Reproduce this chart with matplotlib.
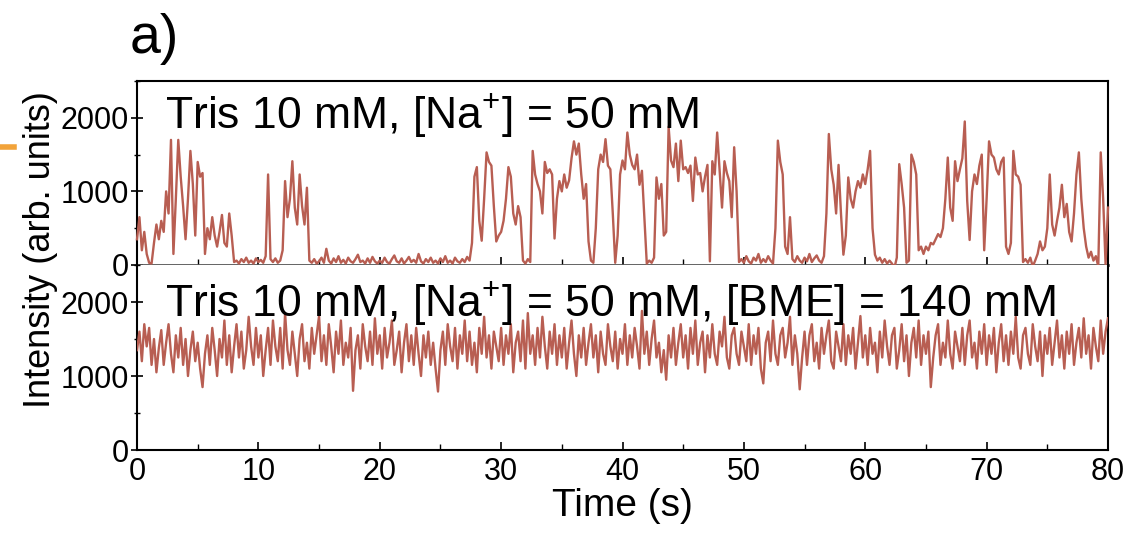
import numpy as np
import matplotlib
matplotlib.use("Agg")
import matplotlib.pyplot as plt
from matplotlib.ticker import MultipleLocator
from matplotlib.lines import Line2D

plt.rcParams['font.family'] = ['Liberation Sans', 'DejaVu Sans']
plt.rcParams['mathtext.default'] = 'regular'

# ---------------- data ----------------
DT = 0.2          # sampling step (s), each block spans 5 s
BLOCK = 5.0

# top trace: Tris 10 mM, [Na+] = 50 mM  (16 blocks of 25 samples + final point)
top_blocks = [
    [350, 650, 200, 450, 150, 30, 20, 300, 550, 350, 600, 450, 1000, 700, 1700, 150, 900, 1700, 1200, 800, 350, 900, 1550, 1100, 400],
    [1400, 1200, 1250, 150, 500, 350, 650, 400, 250, 450, 680, 300, 250, 700, 400, 40, 60, 20, 80, 40, 100, 30, 60, 20, 90],
    [40, 70, 30, 120, 1230, 80, 40, 90, 30, 60, 200, 1140, 650, 900, 1410, 780, 550, 1230, 800, 550, 1050, 60, 30, 80, 20],
    [50, 100, 30, 220, 60, 20, 90, 40, 120, 30, 70, 20, 100, 50, 30, 80, 140, 40, 60, 20, 90, 30, 110, 50, 20],
    [60, 30, 100, 40, 20, 80, 130, 50, 30, 90, 20, 60, 110, 40, 70, 30, 150, 50, 20, 80, 40, 100, 30, 60, 20],
    [90, 40, 120, 30, 60, 20, 100, 50, 30, 80, 40, 110, 60, 300, 1200, 1330, 600, 330, 900, 1530, 1400, 1350, 800, 320, 400],
    [450, 600, 900, 1330, 1200, 700, 550, 800, 650, 60, 20, 80, 40, 1550, 1230, 1100, 1000, 700, 1400, 1250, 1300, 1230, 360, 900, 1140],
    [1000, 1230, 1050, 1150, 1450, 1680, 1500, 1650, 1230, 900, 1100, 320, 60, 30, 500, 1300, 1500, 1400, 1710, 1350, 1300, 700, 30, 400, 1230],
    [1420, 1300, 1800, 1500, 1360, 1300, 1500, 1090, 1280, 650, 20, 60, 30, 100, 1190, 900, 1100, 400, 450, 1880, 1420, 1330, 1650, 1140, 1690],
    [1300, 1330, 1250, 1350, 870, 1460, 1230, 1250, 1000, 1200, 1360, 50, 1410, 1230, 1800, 1300, 780, 1410, 1250, 1140, 650, 1600, 1000, 40, 80],
    [30, 120, 50, 20, 100, 60, 150, 30, 80, 40, 120, 60, 20, 500, 1690, 1400, 1230, 250, 150, 650, 80, 40, 120, 60, 30],
    [100, 50, 150, 40, 90, 130, 60, 30, 120, 700, 1780, 1300, 1090, 700, 1360, 700, 140, 400, 1190, 900, 780, 1000, 1140, 1050, 1230],
    [1100, 1300, 1550, 500, 140, 60, 100, 30, 80, 20, 60, 20, -40, 100, 1370, 1100, 780, 30, 60, 1500, 1400, 1230, 200, 250, 150],
    [250, 200, 300, 280, 350, 420, 380, 500, 900, 1460, 780, 600, 1410, 1140, 1300, 1450, 1950, 870, 340, 1000, 1230, 1100, 1350, 1500, 200],
    [900, 1680, 1500, 1460, 1300, 1230, 1400, 1460, 250, 150, 300, 1550, 1230, 1200, 1090, 40, 80, 30, 100, -20, 60, 150, 320, 200, 250],
    [500, 1230, 550, 400, 600, 780, 1090, 650, 830, 450, 320, 700, 1230, 1530, 900, 500, 250, 100, 180, 60, 120, -20, 1530, 900, 10],
]
top_last = 780

# bottom trace: Tris 10 mM, [Na+] = 50 mM, [BME] = 140 mM
bottom_blocks = [
    [1350, 1600, 1200, 1700, 1400, 1650, 1150, 1500, 1050, 1380, 1620, 1150, 1450, 1700, 1300, 1050, 1550, 1250, 1650, 1150, 1500, 1000, 1350, 1600, 1200],
    [1450, 1100, 850, 1300, 1550, 1150, 1650, 1350, 1000, 1500, 1250, 1750, 1150, 1550, 1050, 1400, 1700, 1250, 1600, 1100, 1350, 1800, 1400, 1150, 1650],
    [1250, 1550, 1000, 1350, 1650, 1150, 1750, 1400, 1200, 1650, 1100, 1850, 1350, 1150, 1600, 1300, 1000, 1500, 1700, 1200, 1450, 1100, 1650, 1300, 1550],
    [1810, 1200, 1550, 1150, 1700, 1400, 1050, 1600, 1300, 1750, 1150, 1450, 1250, 1650, 800, 1350, 1550, 1100, 1700, 1400, 1200, 1600, 1150, 1780, 1300],
    [1550, 1100, 1650, 1250, 1450, 1750, 1150, 1350, 1600, 1050, 1450, 1700, 1200, 1550, 1150, 1650, 1300, 1000, 1550, 1250, 1600, 1150, 1450, 1100, 790],
    [1350, 1600, 1150, 1700, 1400, 1200, 1650, 1100, 1550, 1300, 1750, 1200, 1600, 1150, 1450, 1050, 1650, 1300, 1800, 1250, 1550, 1100, 1600, 1400, 1200],
    [1650, 1150, 1550, 1300, 1700, 1050, 1450, 1600, 1200, 1750, 1100, 1850, 1300, 1550, 1150, 1650, 1250, 1800, 1400, 1100, 1600, 1300, 1700, 1150, 1550],
    [1250, 1650, 1100, 1450, 1750, 1300, 1000, 1550, 1250, 1650, 1150, 1450, 1700, 1250, 1550, 1050, 1600, 1300, 1150, 1700, 1400, 1200, 1600, 1100, 1500],
    [1300, 1700, 1150, 1550, 1250, 1650, 1400, 1100, 1880, 1300, 1600, 1150, 1500, 1750, 1250, 1450, 1050, 1350, 950, 1550, 1250, 1650, 1150, 1450, 1700],
    [1250, 1550, 1100, 1650, 1300, 1750, 1150, 1450, 1600, 1050, 1550, 1250, 1700, 1300, 1150, 1600, 1400, 1800, 1250, 1100, 1550, 1650, 1300, 1150, 1600],
    [1400, 1200, 1700, 1150, 1550, 1300, 1650, 1100, 900, 1450, 1600, 1200, 1750, 1300, 1150, 1550, 1650, 1250, 1450, 1800, 1150, 1550, 1300, 820, 1250],
    [1600, 1150, 1550, 1700, 1200, 1450, 1100, 1650, 1300, 1550, 1750, 1200, 1100, 1600, 1400, 1200, 1700, 1150, 1550, 1300, 1650, 1100, 1450, 1810, 1250],
    [1550, 1150, 1650, 1300, 1450, 1050, 1600, 1250, 1750, 1400, 1150, 1550, 1650, 1100, 1350, 1700, 1200, 1550, 1000, 1450, 1650, 1250, 1750, 1150, 1550],
    [1300, 1600, 850, 1250, 1550, 1700, 1150, 1450, 1250, 1750, 1300, 1100, 1600, 1400, 1200, 1650, 1150, 1550, 1750, 1250, 1450, 1100, 1600, 1300, 1700],
    [1150, 1550, 1300, 1650, 1050, 1450, 1700, 1200, 1550, 1150, 1600, 1300, 1800, 1250, 1100, 1550, 1650, 1300, 1150, 1700, 1400, 1200, 1600, 1000, 1550],
    [1300, 1650, 1150, 1450, 1750, 1250, 1550, 1100, 1600, 1300, 1700, 1150, 1450, 1650, 1250, 1780, 1300, 1550, 1100, 1650, 1400, 1200, 1750, 1300, 1600],
]
bottom_last = 1780

x_ticks = [0, 10, 20, 30, 40, 50, 60, 70, 80]
y_ticks = [0, 1000, 2000]
top_label = "Tris 10 mM, [Na$^{+}$] = 50 mM"
bottom_label = "Tris 10 mM, [Na$^{+}$] = 50 mM, [BME] = 140 mM"


def build(blocks, last):
    t, v = [], []
    for b, row in enumerate(blocks):
        for i, val in enumerate(row):
            t.append(b * BLOCK + i * DT)
            v.append(val)
    t.append(len(blocks) * BLOCK)
    v.append(last)
    return np.array(t), np.array(v, dtype=float)


t_top, v_top = build(top_blocks, top_last)
t_bot, v_bot = build(bottom_blocks, bottom_last)

# ---------------- figure ----------------
W, H = 1135, 536
fig = plt.figure(figsize=(W / 100, H / 100), dpi=100)

left = 137 / W
right = 1108 / W
y_top_top = 1 - 81 / H
y_mid = 1 - 265 / H
y_bot = 1 - 450 / H

ax1 = fig.add_axes([left, y_mid, right - left, y_top_top - y_mid])
ax2 = fig.add_axes([left, y_bot, right - left, y_mid - y_bot], sharex=ax1)

color = '#b85e52'
ax1.plot(t_top, v_top, color=color, lw=1.7, clip_on=False, zorder=3)
ax2.plot(t_bot, v_bot, color=color, lw=1.7, zorder=3)

for ax in (ax1, ax2):
    ax.set_xlim(0, 80)
    ax.set_ylim(0, 2500)
    ax.set_yticks(y_ticks)
    ax.yaxis.set_minor_locator(MultipleLocator(500))
    ax.set_xticks(x_ticks)
    ax.xaxis.set_minor_locator(MultipleLocator(5))
    for s in ax.spines.values():
        s.set_linewidth(1.5)
        s.set_color('black')
    ax.tick_params(axis='y', which='major', direction='inout', length=8, width=1.2,
                   labelsize=22, pad=2)
    ax.tick_params(axis='y', which='minor', direction='inout', length=5, width=1.0)
    ax.tick_params(axis='x', which='major', direction='in', length=6, width=1.2,
                   labelsize=22, pad=5)
    ax.tick_params(axis='x', which='minor', direction='in', length=4, width=1.0)

ax1.tick_params(axis='x', which='both', labelbottom=False)
ax1.spines['bottom'].set_color('#555555')
ax1.spines['bottom'].set_linewidth(2.0)
ax2.spines['top'].set_visible(False)

ax1.text(2.3, 1864, top_label, fontsize=32, va='baseline', ha='left', zorder=4)
ax2.text(2.3, 1810, bottom_label, fontsize=32, va='baseline', ha='left', zorder=4)

ax2.set_xlabel("Time (s)", fontsize=28, labelpad=1)
fig.text(40 / W, 1 - 250 / H, "Intensity (arb. units)", rotation=90, fontsize=26,
         ha='center', va='center')
fig.text(130 / W, 1 - 53 / H, "a)", fontsize=40, ha='left', va='baseline')

# small orange mark at the left edge
fig.add_artist(Line2D([0, 14 / W], [1 - 147 / H, 1 - 147 / H], color='#f2a33a', lw=4))

fig.savefig("out.png", dpi=100)
